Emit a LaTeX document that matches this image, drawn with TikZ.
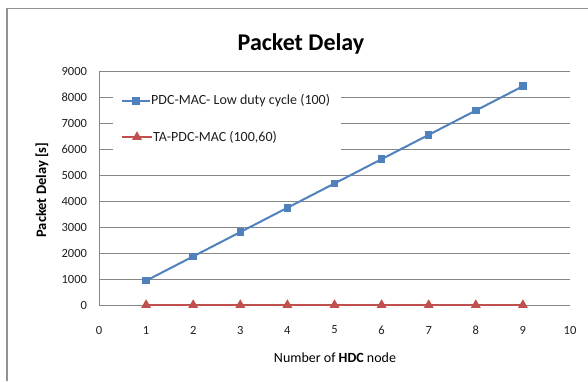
\documentclass[tikz,border=0pt]{standalone}
\usepackage{fontspec}
\setmainfont{Carlito}
\usetikzlibrary{calc,shapes.geometric}
\definecolor{seriesblue}{RGB}{79,129,189}
\definecolor{seriesred}{RGB}{192,80,77}
\definecolor{gridgray}{RGB}{134,134,134}
\definecolor{ink}{RGB}{30,30,30}

\begin{document}
\begin{tikzpicture}[
  x=1pt,y=-1pt,
  font=\fontsize{12.5}{14}\selectfont,
  gridline/.style={draw=gridgray,line width=.8pt},
  framebox/.style={draw=gridgray!90,line width=1.2pt},
  bluel/.style={draw=seriesblue,line width=2pt},
  redl/.style={draw=seriesred,line width=2pt},
  sqmark/.style={fill=seriesblue,inner sep=0pt,minimum size=7.5pt},
  trimark/.style={regular polygon,regular polygon sides=3,fill=seriesred,
                  inner sep=0pt,minimum size=11.5pt},
  ticklab/.style={text=ink,inner sep=1pt},
  legtext/.style={anchor=west,inner sep=1pt,text=ink,font=\fontsize{14}{16}\selectfont},
  title/.style={text=black,font=\fontsize{24}{28}\selectfont\bfseries},
  axistitle/.style={text=black,font=\fontsize{14}{16}\selectfont}
]
\useasboundingbox (0,0) rectangle (588,381);

% Chart frame (cut by the page on the right and at the bottom).
\draw[framebox] (7,381) -- (7,8.5) -- (588,8.5);

% Title.
\node[title] (charttitle) at (301,44) {Packet Delay};

% Plot area in data units.
\begin{scope}[shift={(99,305)},x=47.1pt,y=.026pt]
  \foreach \v in {1000,2000,...,9000}
    \draw[gridline] (0,\v) -- (10,\v);
  \draw[gridline] (0,0) -- (10,0);
  \draw[gridline] (0,0) -- (0,9000);

  % Axis labels.
  \foreach \v in {0,1000,...,9000}
    \node[ticklab,anchor=east] (ylab\v) at (-.23,\v) {\v};
  \foreach \n in {0,...,10}
    \node[ticklab] (xlab\n) at (\n,0) [yshift=-25pt] {\n};

  % Data points.
  \foreach \n in {1,...,9}{
    \coordinate (b\n) at (\n,{935*\n});
    \coordinate (r\n) at (\n,0);
  }
\end{scope}

% Legend (white box hides the grid behind it).
\fill[white] (113,84) rectangle (341,162);
\coordinate (legA) at (122,101);
\coordinate (legB) at (122,137);
\draw[bluel] (legA) -- ++(28,0) coordinate (legAend);
\node[sqmark] (legAmark) at ($(legA)!.5!(legAend)$) {};
\node[legtext] (legAtext) at (legAend) {PDC-MAC- Low duty cycle (100)};
\draw[redl] (legB) -- ++(30,0) coordinate (legBend);
\node[trimark] (legBmark) at ($(legB)!.5!(legBend)$) {};
\node[legtext] (legBtext) at (legBend) {TA-PDC-MAC (100,60)};

% Series.
\draw[redl] (r1) -- (r9);
\foreach \n in {1,...,9}
  \node[trimark] (rm\n) at (r\n) {};
\draw[bluel] (b1) \foreach \n in {2,...,9}{ -- (b\n)};
\foreach \n in {1,...,9}
  \node[sqmark] (bm\n) at (b\n) {};

% Axis titles.
\node[axistitle] (xtitle) at (335,358) {Number of \textbf{HDC} node};
\node[axistitle,rotate=90,font=\fontsize{14.5}{16}\selectfont\bfseries] (ytitle) at (42,190) {Packet Delay [s]};

\end{tikzpicture}
\end{document}
